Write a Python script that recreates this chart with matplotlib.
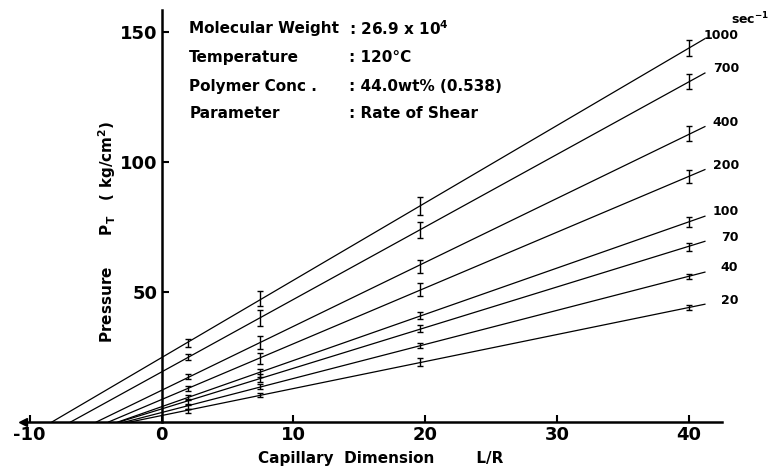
import numpy as np
import matplotlib.pyplot as plt

# L/R of the capillaries used
lr = np.array([2.0, 7.5, 19.6, 40.0])

# rate of shear (sec^-1) and measured total pressure (kg/cm^2) at each L/R
rates = ['1000', '700', '400', '200', '100', '70', '40', '20']
p_1000 = [30.5, 47.5, 83.0, 144.0]
p_700 = [25.0, 40.0, 74.0, 131.0]
p_400 = [17.5, 30.5, 60.0, 111.0]
p_200 = [13.0, 24.5, 51.0, 94.5]
p_100 = [9.5, 19.0, 41.0, 77.0]
p_70 = [7.8, 17.0, 36.0, 67.5]
p_40 = [5.9, 13.8, 29.5, 56.0]
p_20 = [4.3, 10.5, 23.0, 44.0]
err_1000 = [1.5, 3.0, 3.5, 3.0]
err_700 = [1.2, 3.0, 3.0, 2.8]
err_400 = [1.0, 2.5, 2.5, 3.0]
err_200 = [1.0, 2.0, 2.5, 2.5]
err_100 = [1.0, 1.5, 1.5, 2.0]
err_70 = [1.0, 1.5, 1.5, 1.5]
err_40 = [0.8, 1.0, 1.0, 1.0]
err_20 = [0.7, 0.8, 1.5, 1.0]

pressures = [p_1000, p_700, p_400, p_200, p_100, p_70, p_40, p_20]
errors = [err_1000, err_700, err_400, err_200, err_100, err_70, err_40, err_20]

plt.rcParams['font.family'] = 'DejaVu Sans'
plt.rcParams['font.weight'] = 'bold'

fig = plt.figure(figsize=(7.75, 4.69), dpi=100)
ax = fig.add_axes([0.0297, 0.1002, 0.902, 0.878])
ax.set_xlim(-10.5, 42.5)
ax.set_ylim(0, 158.5)

for rate, p, e in zip(rates, pressures, errors):
    m, b = np.polyfit(lr, p, 1)
    x0 = -b / m
    xs = np.array([x0, 41.2])
    ax.plot(xs, m * xs + b, color='black', lw=0.9)
    ax.errorbar(lr, p, yerr=e, fmt='none', ecolor='black', elinewidth=1.0,
                capsize=2.5, capthick=1.0)
    xl = 41.1 if len(rate) == 4 else (41.8 if len(rate) == 3 else 42.4)
    dy = 0.8 if len(rate) == 4 else 1.5
    ax.text(xl, m * 41.3 + b + dy, rate, fontsize=9, fontweight='bold',
            ha='left', va='center', clip_on=False)

ax.text(46.1, 155, 'sec$^{\\mathbf{-1}}$', fontsize=9, fontweight='bold',
        ha='right', va='center', clip_on=False)

# spines: y axis through x = 0, x axis along P = 0
for s in ['top', 'right']:
    ax.spines[s].set_visible(False)
ax.spines['left'].set_position(('data', 0))
ax.spines['left'].set_linewidth(1.8)
ax.spines['bottom'].set_linewidth(1.8)
ax.plot([-10.5], [0], marker='<', color='black', markersize=6, clip_on=False)

ax.set_xticks([-10, 0, 10, 20, 30, 40])
ax.set_xticklabels(['-10', '0', '10', '20', '30', '40'])
ax.set_yticks([50, 100, 150])
ax.set_yticklabels(['50', '100', '150'])
ax.tick_params(direction='in', length=5, width=1.5, labelsize=13)
ax.tick_params(axis='x', pad=3)
ax.tick_params(axis='y', pad=3)

# axis titles
ax.text(-4.1, 73, 'Pressure      P$_{\\mathbf{T}}$   ( kg/cm$^{\\mathbf{2}}$)',
        rotation=90, fontsize=11, fontweight='bold', ha='center', va='center')
ax.text(16.6, -14.2, 'Capillary  Dimension        L/R', fontsize=11,
        fontweight='bold', ha='center', va='center', clip_on=False)

# condition block
names = ['Molecular Weight', 'Temperature', 'Polymer Conc .', 'Parameter']
values = ['26.9 x 10$^{\\mathbf{4}}$', '120\u00b0C', '44.0wt% (0.538)',
          'Rate of Shear']
rows_y = [151.5, 140.4, 129.2, 118.8]
for name, val, yy in zip(names, values, rows_y):
    ax.text(2.1, yy, name, fontsize=11, fontweight='bold', va='center')
    ax.text(14.2, yy, ': ' + val, fontsize=11, fontweight='bold', va='center')

fig.savefig('out.png', dpi=100)
